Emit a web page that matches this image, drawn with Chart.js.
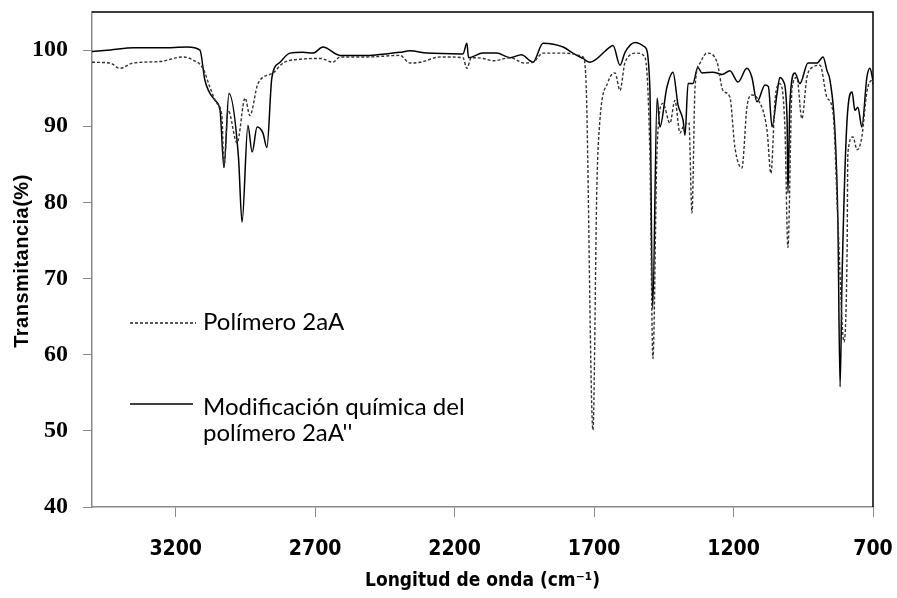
<!DOCTYPE html>
<html>
<head>
<meta charset="utf-8">
<script src="https://cdn.jsdelivr.net/npm/chart.js@4/dist/chart.umd.min.js"></script>
<style>
  html, body { margin: 0; padding: 0; background: #fff; }
  canvas { display: block; }
</style>
</head>
<body>
<canvas id="irChart" width="897" height="598"></canvas>
<script>
// Espectros IR: número de onda (cm-1) y transmitancia (%)
const polimeroX = [3500, 3435, 3400, 3353, 3256, 3174, 3138, 3102, 3077, 3052, 3034, 3027, 3012, 2980, 2951, 2934, 2905, 2851, 2815, 2754, 2680, 2636, 2611, 2514, 2396, 2360, 2324, 2250, 2170, 2156, 2140, 2098, 2060, 2000, 1950, 1919, 1883, 1811, 1740, 1729, 1704, 1690, 1679, 1650, 1625, 1607, 1589, 1546, 1518, 1500, 1489, 1474, 1453, 1428, 1410, 1392, 1381, 1360, 1349, 1338, 1320, 1295, 1259, 1238, 1213, 1195, 1170, 1152, 1134, 1112, 1080, 1066, 1051, 1034, 1016, 1005, 990, 973, 955, 937, 919, 890, 865, 843, 826, 804, 793, 790, 772, 757, 740, 722, 704, 700];
const polimeroT = [98.4, 98.3, 97.6, 98.3, 98.5, 99.1, 98.7, 97.6, 95.1, 93.0, 91.2, 84.6, 92.1, 87.8, 93.7, 91.4, 95.6, 97.0, 98.3, 98.8, 98.9, 98.4, 99.1, 99.1, 99.3, 98.3, 98.4, 99.1, 99.0, 97.6, 99.0, 98.9, 98.6, 99.0, 98.3, 98.4, 99.6, 99.6, 99.1, 96.0, 50.1, 82.0, 90.8, 95.8, 97.0, 94.7, 98.4, 99.6, 99.1, 86.5, 59.5, 87.2, 93.0, 90.4, 93.4, 89.1, 89.9, 90.5, 78.6, 95.1, 98.3, 99.6, 98.4, 94.7, 93.8, 87.2, 84.5, 92.5, 94.1, 93.5, 89.5, 83.8, 93.5, 95.6, 90.0, 74.1, 95.1, 96.4, 91.0, 96.4, 97.7, 98.0, 93.8, 91.7, 77.7, 61.7, 73.3, 86.5, 88.6, 86.9, 88.6, 94.5, 96.0, 95.5];

const modificadoX = [3500, 3435, 3350, 3250, 3159, 3113, 3095, 3059, 3041, 3027, 3009, 2975, 2962, 2941, 2926, 2908, 2887, 2873, 2855, 2826, 2790, 2744, 2708, 2672, 2611, 2514, 2450, 2396, 2360, 2300, 2170, 2156, 2150, 2098, 2050, 2000, 1960, 1930, 1919, 1883, 1811, 1776, 1740, 1715, 1643, 1632, 1607, 1589, 1553, 1518, 1500, 1490, 1474, 1464, 1439, 1417, 1399, 1381, 1374, 1363, 1346, 1328, 1313, 1274, 1241, 1213, 1184, 1152, 1134, 1116, 1087, 1075, 1062, 1044, 1034, 1020, 1008, 1005, 998, 980, 962, 933, 901, 879, 865, 854, 836, 826, 818, 811, 793, 775, 765, 754, 740, 722, 711, 700];
const modificadoT = [99.8, 100.0, 100.3, 100.3, 100.4, 100.0, 96.0, 93.4, 92.1, 84.6, 94.3, 86.0, 77.4, 90.1, 86.6, 89.9, 89.1, 87.2, 96.4, 98.4, 99.6, 99.7, 99.6, 100.4, 99.3, 99.3, 99.5, 99.7, 99.9, 99.6, 99.5, 100.9, 99.0, 99.6, 99.6, 99.0, 99.4, 98.6, 98.4, 100.9, 100.4, 99.6, 98.9, 98.4, 100.4, 100.6, 98.0, 99.7, 101.0, 100.4, 95.1, 66.0, 93.7, 89.9, 95.1, 97.1, 92.8, 90.8, 88.8, 95.6, 95.6, 97.7, 97.0, 97.1, 96.8, 97.3, 95.8, 97.6, 96.4, 93.2, 95.4, 95.2, 89.9, 94.3, 96.4, 95.8, 90.8, 81.2, 93.0, 97.0, 95.6, 98.3, 98.3, 99.1, 97.3, 96.0, 89.1, 77.7, 55.8, 70.0, 90.8, 94.5, 92.1, 92.5, 89.9, 96.4, 97.6, 96.0];

const xTicks = [3200, 2700, 2200, 1700, 1200, 700];
const yTicks = [40, 50, 60, 70, 80, 90, 100];

const toPoints = (xs, ys) => xs.map((x, i) => ({ x: x, y: ys[i] }));

// leyenda, títulos de ejes y marco superior/derecho
const decoraciones = {
  id: 'decoraciones',
  afterDraw(chart) {
    const ctx = chart.ctx;
    const a = chart.chartArea;
    ctx.save();

    // marco negro arriba y a la derecha
    ctx.strokeStyle = '#000';
    ctx.lineWidth = 1.5;
    ctx.beginPath();
    ctx.moveTo(a.left, a.top);
    ctx.lineTo(a.right, a.top);
    ctx.lineTo(a.right, a.bottom);
    ctx.stroke();

    // leyenda
    ctx.lineWidth = 1.3;
    ctx.strokeStyle = '#222';
    ctx.setLineDash([3, 2]);
    ctx.beginPath();
    ctx.moveTo(130, 323);
    ctx.lineTo(196, 323);
    ctx.stroke();
    ctx.setLineDash([]);
    ctx.strokeStyle = '#000';
    ctx.lineWidth = 1.5;
    ctx.beginPath();
    ctx.moveTo(130, 404);
    ctx.lineTo(193, 404);
    ctx.stroke();

    ctx.fillStyle = '#000';
    ctx.font = '24px Lato, "Open Sans", sans-serif';
    ctx.textAlign = 'left';
    ctx.textBaseline = 'alphabetic';
    ctx.fillText('Polímero 2aA', 203, 330);
    ctx.fillText('Modificación química del', 203, 415);
    ctx.fillText('polímero 2aA\'\'', 203, 441);

    // títulos de ejes
    ctx.font = 'bold 19px "Liberation Sans Narrow", "DejaVu Sans Condensed", sans-serif';
    ctx.textAlign = 'center';
    ctx.textBaseline = 'middle';
    ctx.fillText('Longitud de onda (cm⁻¹)', (a.left + a.right) / 2, 581);

    ctx.translate(22, 261);
    ctx.rotate(-Math.PI / 2);
    ctx.font = 'bold 20px "Liberation Sans", Arial, sans-serif';
    ctx.letterSpacing = '0.5px';
    ctx.fillText('Transmitancia(%)', 0, 0);
    ctx.restore();
  }
};

const ctx = document.getElementById('irChart').getContext('2d');

new Chart(ctx, {
  type: 'line',
  data: {
    datasets: [
      {
        label: 'Polímero 2aA',
        data: toPoints(polimeroX, polimeroT),
        borderColor: '#333',
        borderWidth: 1.4,
        borderDash: [3, 2],
        pointRadius: 0,
        cubicInterpolationMode: 'monotone'
      },
      {
        label: 'Modificación química del polímero 2aA\'\'',
        data: toPoints(modificadoX, modificadoT),
        borderColor: '#000',
        borderWidth: 1.5,
        pointRadius: 0,
        cubicInterpolationMode: 'monotone'
      }
    ]
  },
  options: {
    responsive: false,
    animation: false,
    devicePixelRatio: 1,
    layout: { padding: { left: 0, right: 24, top: 12, bottom: 0 } },
    plugins: {
      legend: { display: false },
      tooltip: { enabled: false }
    },
    scales: {
      x: {
        type: 'linear',
        reverse: true,
        min: 700,
        max: 3500,
        afterBuildTicks: s => { s.ticks = xTicks.map(v => ({ value: v })); },
        afterFit: s => { s.height = 91; s.paddingLeft = 0; s.paddingRight = 0; },
        border: { color: '#888', width: 1.5 },
        grid: { drawOnChartArea: false, drawTicks: true, tickLength: 10, color: '#888' },
        ticks: {
          color: '#000',
          padding: 20,
          maxRotation: 0,
          callback: v => String(v),
          font: { family: '"Liberation Sans Narrow", "DejaVu Sans Condensed", sans-serif', size: 21, weight: 'bold' }
        }
      },
      y: {
        min: 40,
        max: 105,
        afterBuildTicks: s => { s.ticks = yTicks.map(v => ({ value: v })); },
        afterFit: s => { s.width = 92; s.paddingTop = 0; s.paddingBottom = 0; },
        border: { color: '#888', width: 1.5 },
        grid: { drawOnChartArea: false, drawTicks: true, tickLength: 9, color: '#888' },
        ticks: {
          color: '#000',
          padding: 15,
          callback: v => String(v),
          font: { family: '"Liberation Serif", serif', size: 24, weight: 'bold' }
        }
      }
    }
  },
  plugins: [decoraciones]
});
</script>
</body>
</html>
